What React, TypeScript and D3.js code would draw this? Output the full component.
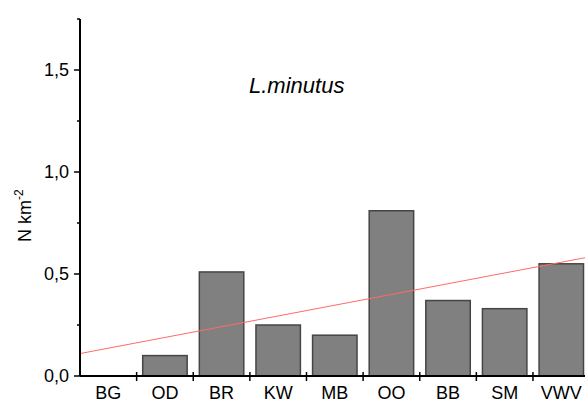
import React from "react";
import * as d3 from "d3";

const categories = ["BG", "OD", "BR", "KW", "MB", "OO", "BB", "SM", "VWV"];
const values = [0, 0.1, 0.51, 0.25, 0.2, 0.81, 0.37, 0.33, 0.55];
const majorTicks = [0, 0.5, 1.0, 1.5];
const minorTicks = [0.25, 0.75, 1.25, 1.75];
const tickLabels = ["0,0", "0,5", "1,0", "1,5"];
// trend line values at the left and right ends of the category range
const trendValues = [0.11, 0.584];

const W = 585;
const H = 403;
const left = 80;
const right = 589.6;
const bottom = 376;
const font = "'Liberation Sans', Arial, sans-serif";

export default function App() {
  const y = d3.scaleLinear().domain([0, 1.75]).range([bottom, bottom - 1.75 * 204]);
  const xb = d3.scaleBand<string>().domain(categories).range([left, right]).paddingInner(0.215).paddingOuter(0.1075);
  const xs = d3.scaleBand<string>().domain(categories).range([left, right]).padding(0);
  const xl = d3.scaleLinear().domain([0, 1]).range([left, right]);
  const line = d3.line<number>().x((_, i) => xl(i)).y((d) => y(d));

  return (
    <svg width={W} height={H} style={{ position: "absolute", left: 0, top: 0, background: "#fff" }}>
      {/* bars */}
      {categories.map((c, i) =>
        values[i] > 0 ? (
          <rect
            key={c}
            x={xb(c)}
            y={y(values[i])}
            width={xb.bandwidth()}
            height={bottom - y(values[i])}
            fill="#808080"
            stroke="#454545"
            strokeWidth={1.5}
          />
        ) : null
      )}
      {/* trend line */}
      <path d={line(trendValues) || ""} fill="none" stroke="#ff6a6a" strokeWidth={1} />
      {/* y axis */}
      <line x1={left} x2={left} y1={y(1.75)} y2={bottom} stroke="#000" strokeWidth={2} />
      {majorTicks.map((t, i) => (
        <g key={t}>
          <line x1={left - 6} x2={left} y1={y(t)} y2={y(t)} stroke="#000" strokeWidth={1.5} />
          <text x={left - 11} y={y(t)} dy="0.36em" textAnchor="end" fontFamily={font} fontSize={18} fill="#000">
            {tickLabels[i]}
          </text>
        </g>
      ))}
      {minorTicks.map((t) => (
        <line key={t} x1={left - 3} x2={left} y1={y(t)} y2={y(t)} stroke="#000" strokeWidth={1.5} />
      ))}
      {/* x axis */}
      <line x1={left} x2={W} y1={bottom} y2={bottom} stroke="#000" strokeWidth={2} />
      {categories.slice(1).map((c) => (
        <line key={c} x1={xs(c)} x2={xs(c)} y1={bottom - 4} y2={bottom + 5} stroke="#000" strokeWidth={1.5} />
      ))}
      {categories.map((c) => (
        <text
          key={c}
          x={(xs(c) || 0) + xs.bandwidth() / 2}
          y={398.5}
          textAnchor="middle"
          fontFamily={font}
          fontSize={18}
          fill="#000"
        >
          {c}
        </text>
      ))}
      {/* y label */}
      <text transform="translate(31,242) rotate(-90)" fontFamily={font} fontSize={18} fill="#000">
        N km
        <tspan fontSize={12} dy={-8}>-2</tspan>
      </text>
      {/* title */}
      <text x={249} y={93} fontFamily={font} fontSize={22} fontStyle="italic" fill="#000">
        L.minutus
      </text>
    </svg>
  );
}
